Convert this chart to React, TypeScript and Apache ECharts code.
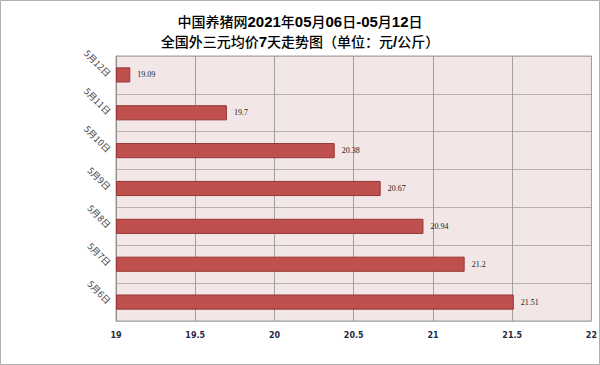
import React, { useEffect, useRef } from "react";
import * as echarts from "echarts";

const titleLines = ["中国养猪网2021年05月06日-05月12日", "全国外三元均价7天走势图（单位：元/公斤）"];
const categories = ["5月6日", "5月7日", "5月8日", "5月9日", "5月10日", "5月11日", "5月12日"];
const prices = [21.51, 21.2, 20.94, 20.67, 20.38, 19.7, 19.09];
const xMin = 19;
const xMax = 22;
const xStep = 0.5;

function toRich(line: string): string {
  const parts = line.match(/[\x20-\x7e]+|[^\x20-\x7e]+/g) || [];
  return parts
    .map((p) => (/^[\x20-\x7e]+$/.test(p) ? `{b|${p}}` : `{c|${p}}`))
    .join("");
}

export default function App() {
  const ref = useRef<HTMLDivElement>(null);
  useEffect(() => {
    if (!ref.current) return;
    const chart = echarts.init(ref.current, null, { renderer: "svg" });
    const base = { fontSize: 14, color: "#000000", lineHeight: 20 };
    chart.setOption({
      animation: false,
      backgroundColor: "#ffffff",
      title: {
        text: titleLines.map(toRich).join("\n"),
        left: "center",
        top: 6,
        textStyle: {
          fontFamily: "Noto Sans CJK SC",
          fontSize: 14,
          lineHeight: 20,
          rich: {
            b: { ...base, fontFamily: "Liberation Sans", fontWeight: "bold", fontSize: 15 },
            c: { ...base, fontFamily: "Noto Sans CJK SC", fontWeight: 500 },
          },
        },
      },
      graphic: [
        {
          type: "rect",
          shape: { x: 0.5, y: 0.5, width: 599, height: 364 },
          style: { fill: "none", stroke: "#b0b0b0", lineWidth: 1 },
          z: 100,
        },
      ],
      grid: {
        left: 116,
        right: 6,
        top: 56,
        bottom: 44,
        show: true,
        backgroundColor: "#f3e6e6",
        borderColor: "#a0a0a0",
        borderWidth: 1,
      },
      xAxis: {
        type: "value",
        min: xMin,
        max: xMax,
        interval: xStep,
        startValue: xMin,
        axisLine: { show: false },
        axisTick: { show: false },
        axisLabel: {
          color: "#1f2a44",
          fontSize: 8,
          fontWeight: "bold",
          fontFamily: "DejaVu Sans",
          margin: 10,
        },
        splitLine: { show: true, lineStyle: { color: "#a0a0a0", width: 1 } },
      },
      yAxis: {
        type: "category",
        data: categories,
        axisLine: { show: true, lineStyle: { color: "#909090" } },
        axisTick: { show: false },
        axisLabel: {
          rotate: -45,
          color: "#404040",
          fontSize: 9,
          fontFamily: "Noto Sans CJK SC",
          margin: 7,
        },
        splitLine: { show: true, lineStyle: { color: "#b8b0b0", width: 1 } },
      },
      series: [
        {
          type: "bar",
          data: prices,
          barWidth: "40%",
          itemStyle: { color: "#c0504d", borderColor: "#943634", borderWidth: 1 },
          label: {
            show: true,
            position: "right",
            distance: 7,
            color: "#222222",
            fontSize: 8,
            fontFamily: "Liberation Serif",
          },
        },
      ],
    });
    return () => chart.dispose();
  }, []);
  return (
    <div
      ref={ref}
      style={{ position: "fixed", left: 0, top: 0, width: 600, height: 365 }}
    />
  );
}
